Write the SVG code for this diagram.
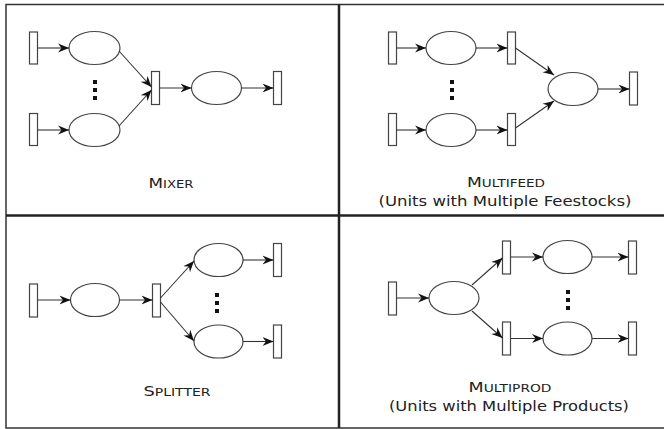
<svg xmlns="http://www.w3.org/2000/svg" width="664" height="429" viewBox="0 0 664 429">
<defs>
<marker id="ah" markerUnits="userSpaceOnUse" markerWidth="12" markerHeight="10" refX="11" refY="5" orient="auto" viewBox="0 0 12 10">
<path d="M0,0.5 L11,5 L0,9.5 L3.5,5 z" fill="#111"/>
</marker>
<style>
rect.t{fill:#fff;stroke:#444;stroke-width:1.2}
ellipse{fill:#fff;stroke:#444;stroke-width:1.2}
.c line{stroke:#333;stroke-width:1.1;marker-end:url(#ah)}
.dot{fill:#111}
text{font-family:"DejaVu Sans","Verdana",sans-serif;fill:#222;text-anchor:middle}
.big{font-size:14px}
.sm{font-size:11px}
.frame{fill:none;stroke:#333;stroke-width:1.5}
.div{stroke:#222;stroke-width:2.5}
</style>
</defs>
<rect fill="#fff" x="0" y="0" width="664" height="429"/>
<g id="frame">
<rect class="frame" x="6" y="4.5" width="660" height="423.5"/>
<line class="div" x1="6" y1="215.5" x2="664" y2="215.5"/>
<line class="div" x1="339" y1="4.5" x2="339" y2="428"/>
</g>

<!-- Panel 1: Mixer -->
<g id="mixer-in1"><rect class="t" x="29.5" y="32" width="8" height="32"/></g>
<g id="mixer-u1"><ellipse cx="94.5" cy="48" rx="25.5" ry="16.5"/></g>
<g id="mixer-in2"><rect class="t" x="29.5" y="113.5" width="8" height="32"/></g>
<g id="mixer-u2"><ellipse cx="94.5" cy="130" rx="25.5" ry="16.5"/></g>
<g id="mixer-dots"><rect class="dot" x="93" y="80" width="4" height="4"/><rect class="dot" x="93" y="88" width="4" height="4"/><rect class="dot" x="93" y="96" width="4" height="4"/></g>
<g id="mixer-mix"><rect class="t" x="151.5" y="71.5" width="8" height="33"/></g>
<g id="mixer-u3"><ellipse cx="216.5" cy="88" rx="25" ry="16.5"/></g>
<g id="mixer-out"><rect class="t" x="273.5" y="71.5" width="8" height="33"/></g>
<g id="mixer-label"><text x="171" y="188" textLength="45" lengthAdjust="spacingAndGlyphs"><tspan class="big">M</tspan><tspan class="sm">IXER</tspan></text></g>

<!-- Panel 2: Multifeed -->
<g id="mf-in1"><rect class="t" x="388.5" y="32" width="8" height="32"/></g>
<g id="mf-u1"><ellipse cx="451" cy="48" rx="25" ry="16.5"/></g>
<g id="mf-m1"><rect class="t" x="507.5" y="32" width="8" height="32"/></g>
<g id="mf-in2"><rect class="t" x="388.5" y="113.5" width="8" height="32"/></g>
<g id="mf-u2"><ellipse cx="451" cy="130" rx="25" ry="16.5"/></g>
<g id="mf-m2"><rect class="t" x="507.5" y="113.5" width="8" height="32"/></g>
<g id="mf-dots"><rect class="dot" x="450" y="80" width="4" height="4"/><rect class="dot" x="450" y="88" width="4" height="4"/><rect class="dot" x="450" y="96" width="4" height="4"/></g>
<g id="mf-u3"><ellipse cx="573" cy="89" rx="25" ry="16.5"/></g>
<g id="mf-out"><rect class="t" x="629.5" y="72" width="8" height="33"/></g>
<g id="mf-label">
<text x="506" y="187" textLength="78" lengthAdjust="spacingAndGlyphs"><tspan class="big">M</tspan><tspan class="sm">ULTIFEED</tspan></text>
<text class="big" x="505" y="205.5" textLength="253" lengthAdjust="spacingAndGlyphs">(Units with Multiple Feestocks)</text>
</g>

<!-- Panel 3: Splitter -->
<g id="sp-in"><rect class="t" x="29.5" y="284" width="8" height="33"/></g>
<g id="sp-u1"><ellipse cx="95" cy="300" rx="24.5" ry="16.5"/></g>
<g id="sp-split"><rect class="t" x="152.5" y="284" width="8" height="33"/></g>
<g id="sp-u2"><ellipse cx="218.5" cy="260" rx="24.5" ry="16.5"/></g>
<g id="sp-out1"><rect class="t" x="273.5" y="243.5" width="8" height="33"/></g>
<g id="sp-dots"><rect class="dot" x="215" y="293" width="4" height="4"/><rect class="dot" x="215" y="301" width="4" height="4"/><rect class="dot" x="215" y="309" width="4" height="4"/></g>
<g id="sp-u3"><ellipse cx="218.5" cy="341.5" rx="24.5" ry="16.5"/></g>
<g id="sp-out2"><rect class="t" x="273.5" y="325" width="8" height="33"/></g>
<g id="sp-label"><text x="177" y="396" textLength="67" lengthAdjust="spacingAndGlyphs"><tspan class="big">S</tspan><tspan class="sm">PLITTER</tspan></text></g>

<!-- Panel 4: Multiprod -->
<g id="mp-in"><rect class="t" x="388.5" y="282" width="8" height="33"/></g>
<g id="mp-u1"><ellipse cx="454" cy="298" rx="25" ry="16.5"/></g>
<g id="mp-m1"><rect class="t" x="502.5" y="241" width="8" height="33"/></g>
<g id="mp-u2"><ellipse cx="567.5" cy="257" rx="24.5" ry="16.5"/></g>
<g id="mp-out1"><rect class="t" x="628.5" y="241" width="8" height="33"/></g>
<g id="mp-m2"><rect class="t" x="502.5" y="322" width="8" height="33"/></g>
<g id="mp-u3"><ellipse cx="567.5" cy="338.5" rx="24.5" ry="16.5"/></g>
<g id="mp-out2"><rect class="t" x="628.5" y="322" width="8" height="33"/></g>
<g id="mp-dots"><rect class="dot" x="566" y="290" width="4" height="4"/><rect class="dot" x="566" y="298" width="4" height="4"/><rect class="dot" x="566" y="306" width="4" height="4"/></g>
<g id="mp-label">
<text x="510" y="392" textLength="83" lengthAdjust="spacingAndGlyphs"><tspan class="big">M</tspan><tspan class="sm">ULTIPROD</tspan></text>
<text class="big" x="509" y="411" textLength="240" lengthAdjust="spacingAndGlyphs">(Units with Multiple Products)</text>
</g>

<g id="connectors" class="c">
<!-- mixer -->
<line x1="37.5" y1="48" x2="69" y2="48"/>
<line x1="37.5" y1="130" x2="69" y2="130"/>
<line x1="119" y1="51" x2="151.5" y2="87"/>
<line x1="119" y1="126" x2="151.5" y2="90"/>
<line x1="159.5" y1="88" x2="191.5" y2="88"/>
<line x1="241.5" y1="88" x2="273.5" y2="88"/>
<!-- multifeed -->
<line x1="396.5" y1="48" x2="426" y2="48"/>
<line x1="476" y1="48" x2="507.5" y2="48"/>
<line x1="396.5" y1="130" x2="426" y2="130"/>
<line x1="476" y1="130" x2="507.5" y2="130"/>
<line x1="515.5" y1="48" x2="554" y2="75"/>
<line x1="515.5" y1="128" x2="554" y2="101"/>
<line x1="598" y1="89" x2="629.5" y2="89"/>
<!-- splitter -->
<line x1="37.5" y1="300" x2="70.5" y2="300"/>
<line x1="119.5" y1="300" x2="152.5" y2="300"/>
<line x1="160.5" y1="298" x2="194" y2="261"/>
<line x1="160.5" y1="302" x2="194" y2="341"/>
<line x1="243" y1="260" x2="273.5" y2="260"/>
<line x1="243" y1="341.5" x2="273.5" y2="341.5"/>
<!-- multiprod -->
<line x1="396.5" y1="298" x2="429" y2="298"/>
<line x1="472" y1="285" x2="502.5" y2="258"/>
<line x1="472" y1="311" x2="502.5" y2="338"/>
<line x1="510.5" y1="257" x2="543" y2="257"/>
<line x1="592" y1="257" x2="628.5" y2="257"/>
<line x1="510.5" y1="338.5" x2="543" y2="338.5"/>
<line x1="592" y1="338.5" x2="628.5" y2="338.5"/>
</g>
</svg>
